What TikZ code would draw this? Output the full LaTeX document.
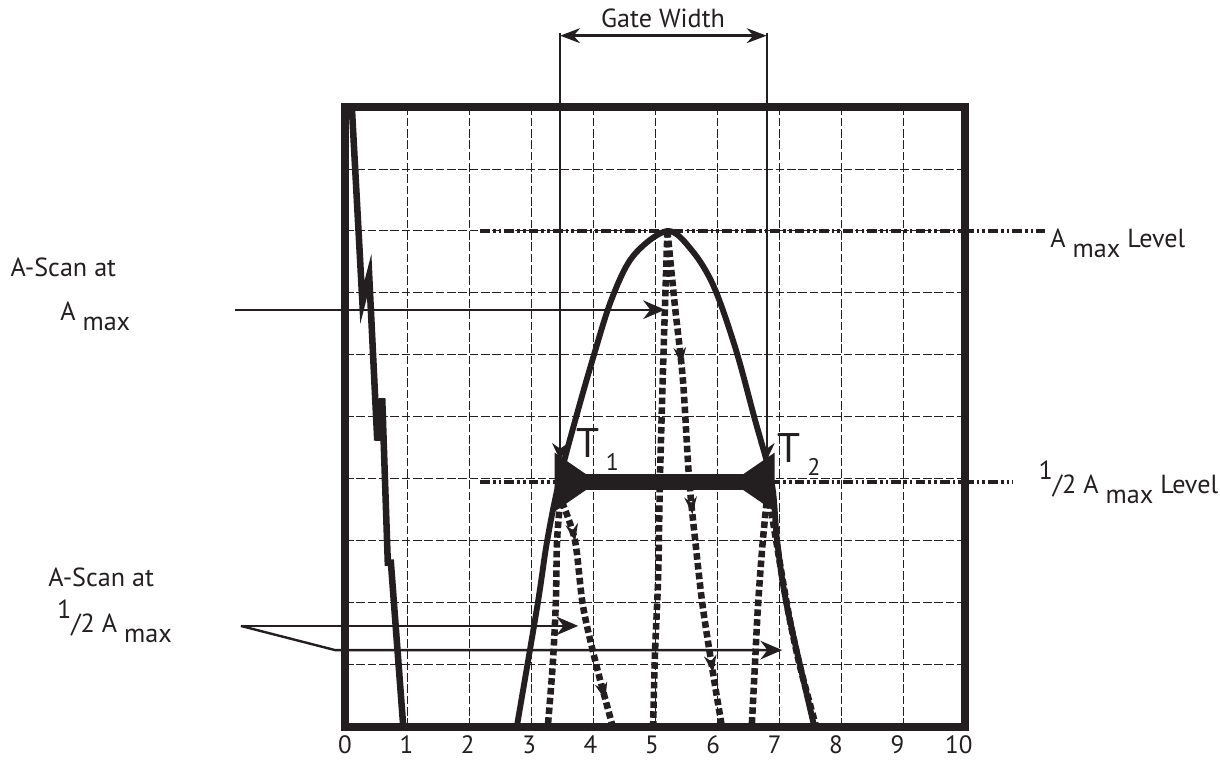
\documentclass[tikz,border=0pt]{standalone}
\usepackage{fontspec}
\setmainfont{PT Sans}
\usepackage{tikz}
\usepackage{xcolor}
\usetikzlibrary{arrows.meta,decorations.markings}
\newcommand{\subLow}[1]{\raisebox{-4.5pt}{#1}}
\newcommand{\amaxText}{A \subLow{max}}
\newcommand{\halfText}{\raisebox{6.5pt}{1}/2}
\newcommand{\markSub}[1]{\,\raisebox{-6pt}{\fontsize{11}{11}\selectfont #1}}
\definecolor{scopeink}{HTML}{231F20}
\tikzset{
  frameLine/.style={line width=3.6pt, draw=scopeink},
  gridLine/.style={line width=0.45pt, draw=scopeink, dash pattern=on 4pt off 1.2pt},
  echoLine/.style={line width=2.7pt, draw=scopeink, line join=round},
  pulseLine/.style={line width=3pt, draw=scopeink},
  scanDots/.style={line width=3pt, draw=scopeink, dash pattern=on 3pt off 1.5pt},
  scanNotch/.style={postaction={decorate, decoration={markings, mark=at position #1 with {\arrow[scopeink]{Stealth[length=2.8mm,width=2mm]}}}}},
  levelLine/.style={line width=1.7pt, draw=scopeink, dash pattern=on 4.5pt off 1.4pt on 1.2pt off 1.4pt on 1.2pt off 1.4pt},
  leaderArrow/.style={-{Stealth[length=3.5mm,width=3mm]}, line width=1.1pt, draw=scopeink},
  gateLine/.style={line width=0.9pt, draw=scopeink},
  gateArrow/.style={{Stealth[length=3.2mm,width=2.4mm]}-{Stealth[length=3.2mm,width=2.4mm]}, line width=1.1pt, draw=scopeink},
  gateBar/.style={line width=7.5pt, draw=scopeink, {Triangle[reversed,length=7mm,width=9mm]}-{Triangle[reversed,length=7mm,width=9mm]}},
  noteLabel/.style={font=\fontsize{12}{14}\selectfont, text=scopeink, inner sep=0pt, anchor=base west},
  tickLabel/.style={font=\fontsize{11.5}{12}\selectfont, text=scopeink, inner sep=0pt, anchor=base},
  markLabel/.style={font=\fontsize{19}{20}\selectfont, text=scopeink, inner sep=0pt, anchor=base west}
}

\begin{document}
\begin{tikzpicture}[x=1cm, y=1cm]
  \useasboundingbox (-5.565,-0.548) rectangle (14.113,11.726);

  \draw[gridLine] (0,0) grid (10,10);

  \draw[levelLine] (2.18,8) -- (11.29,8);
  \draw[levelLine] (2.18,3.95) -- (10.77,3.95);

  % main bang
  \draw[pulseLine] (0.11,10) -- (0.28,6.85) -- (0.39,7.28) -- (0.52,4.62) -- (0.6,5.3)
    -- (0.69,2.65) -- (0.74,2.65) -- (0.94,0);

  % echo dynamic
  \draw[echoLine] plot[smooth, tension=0.55] coordinates {(2.77,0) (3.1,1.94) (3.26,3.0) (3.45,3.95)
    (3.7,4.9) (4.0,5.95) (4.3,6.9) (4.65,7.6) (5.2,8) (5.6,7.68) (5.95,7.1) (6.3,6.1)
    (6.6,5.0) (6.88,3.95) (6.97,3.0) (7.13,1.94) (7.57,0)};

  % a-scans
  \draw[scanDots] plot[smooth] coordinates {(5.2,8) (5.13,5.8) (5.08,4.0) (5.05,2.4) (5.0,1.2) (4.97,0)};
  \draw[scanDots, scanNotch=0.27, scanNotch=0.57, scanNotch=0.89] plot[smooth] coordinates {(5.2,8) (5.32,6.8)
    (5.45,5.6) (5.55,4.0) (5.66,2.9) (5.77,1.94) (5.94,0.84) (6.08,0)};
  \draw[scanDots] plot[smooth] coordinates {(3.47,3.63) (3.42,3.0) (3.4,2.0) (3.35,1.0) (3.27,0)};
  \draw[scanDots, scanNotch=0.18, scanNotch=0.88] plot[smooth] coordinates {(3.5,3.63) (3.71,3.0)
    (3.84,1.94) (4.06,0.97) (4.32,0)};
  \draw[scanDots] plot[smooth] coordinates {(6.8,3.63) (6.73,2.9) (6.66,1.94) (6.61,0.97) (6.56,0)};
  \draw[scanDots] plot[smooth] coordinates {(6.85,3.63) (7.06,2.37) (7.18,1.7) (7.34,0.97) (7.6,0)};

  \draw[frameLine] (0,0) rectangle (10,10);

  \coordinate (gateLTop) at (3.47,11.2);
  \coordinate (gateRTop) at (6.8,11.2);
  \coordinate (gateLTip) at (3.47,4.3);
  \coordinate (gateRTip) at (6.8,4.3);
  \coordinate (gateLMid) at (3.47,11.15);
  \coordinate (gateRMid) at (6.8,11.15);
  \coordinate (t1) at (3.38,3.95);
  \coordinate (t2) at (6.93,3.95);

  \draw[gateLine, -{Stealth[length=2.8mm,width=2.6mm]}] (gateLTop) -- (gateLTip);
  \draw[gateLine, -{Stealth[length=2.8mm,width=2.6mm]}] (gateRTop) -- (gateRTip);
  \draw[gateArrow] (gateLMid) -- (gateRMid);
  \draw[gateBar] (t1) -- (t2);

  \node[noteLabel, anchor=base] (gateText) at (5.13,11.29) {Gate Width};
  \node[markLabel] (t1Text) at (3.72,4.34) {T\markSub{1}};
  \node[markLabel] (t2Text) at (6.97,4.27) {T\markSub{2}};

  \node[noteLabel] (scanTopText) at (-5.4,7.26) {A-Scan at};
  \node[noteLabel] (scanTopAmax) at (-4.6,6.56) {\amaxText};
  \node[noteLabel] (scanLowText) at (-4.79,2.26) {A-Scan at};
  \node[noteLabel] (scanLowHalf) at (-4.65,1.52) {\halfText\ \amaxText};
  \node[noteLabel] (amaxLevel) at (11.37,7.73) {\amaxText\ Level};
  \node[noteLabel] (halfLevel) at (11.18,3.77) {\halfText\ \amaxText\ Level};

  \foreach \i in {0,...,10}
    \node[tickLabel] (tick\i) at (0.99*\i,-0.42) {\i};

  \coordinate (amaxFrom) at (-1.77,6.73);
  \coordinate (amaxHit) at (5.16,6.73);
  \coordinate (halfFrom) at (-1.68,1.63);
  \coordinate (halfBend) at (-0.16,1.24);
  \coordinate (halfHitL) at (3.76,1.63);
  \coordinate (halfHitR) at (7.05,1.24);

  \draw[leaderArrow] (amaxFrom) -- (amaxHit);
  \draw[leaderArrow] (halfFrom) -- (halfHitL);
  \draw[leaderArrow] (halfFrom) -- (halfBend) -- (halfHitR);
\end{tikzpicture}
\end{document}
